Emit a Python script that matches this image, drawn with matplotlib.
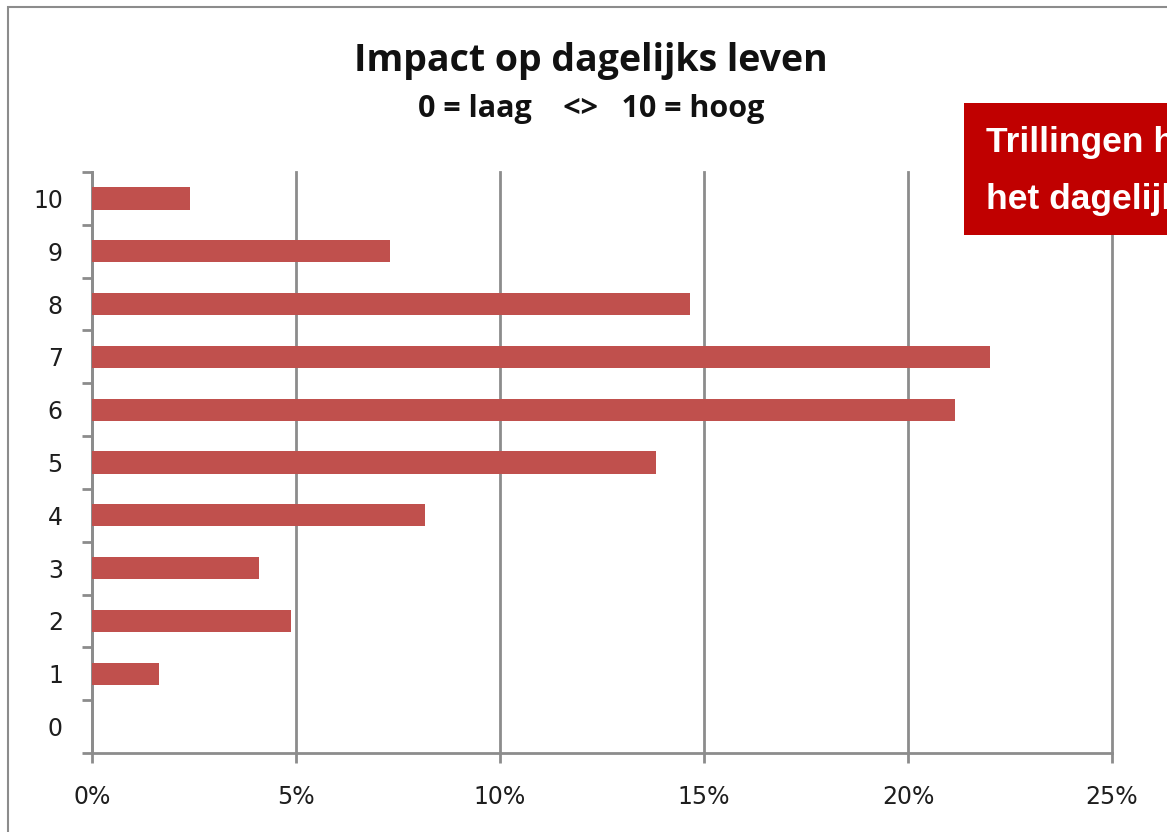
import matplotlib
matplotlib.use("Agg")
import numpy as np
from matplotlib import pyplot as plt
from matplotlib.patches import Rectangle
from matplotlib.ticker import FuncFormatter

# scores 0..10 and share of respondents (%)
scores = [0, 1, 2, 3, 4, 5, 6, 7, 8, 9, 10]
shares = [0.0, 1.64, 4.88, 4.09, 8.16, 13.82, 21.15, 22.01, 14.66, 7.30, 2.40]
x_ticks = [0, 5, 10, 15, 20, 25]

title = "Impact op dagelijks leven"
subtitle = "0 = laag    <>   10 = hoog"
callout = "Trillingen hebben impact op\nhet dagelijks leven"

W, H = 1167, 832
fig = plt.figure(figsize=(W / 100, H / 100), dpi=100)

# chart area border (cut off at right and bottom)
fig.patches.append(Rectangle((8 / W, -0.1), 1.2, 1 - 7 / H + 0.1, transform=fig.transFigure,
                             fill=False, edgecolor="#8c8c8c", linewidth=1.5))

ax = fig.add_axes([92 / W, 79 / H, (1112 - 92) / W, (753 - 172) / H])
ax.barh(scores, shares, height=0.42, color="#C0504D", zorder=3)

ax.set_xlim(0, 25)
ax.set_ylim(-0.5, 10.5)
ax.set_xticks(x_ticks)
ax.xaxis.set_major_formatter(FuncFormatter(lambda v, p: f"{v:.0f}%"))
ax.set_yticks(scores)
ax.set_yticks(np.arange(-0.5, 11, 1), minor=True)

ax.grid(axis="x", color="#8c8c8c", linewidth=2, zorder=0)
for gl in ax.get_xgridlines():
    gl.set_clip_on(False)
for s in ["top", "right"]:
    ax.spines[s].set_visible(False)
for s in ["left", "bottom"]:
    ax.spines[s].set_color("#8c8c8c")
    ax.spines[s].set_linewidth(2)

ax.tick_params(axis="y", which="major", length=0, pad=21, labelsize=17, labelcolor="#1e1e1e")
ax.tick_params(axis="y", which="minor", length=7, width=2, color="#8c8c8c")
ax.tick_params(axis="x", length=7, width=2, color="#8c8c8c", pad=16, labelsize=17, labelcolor="#1e1e1e")
for lab in ax.get_xticklabels() + ax.get_yticklabels():
    lab.set_family("DejaVu Sans")

fig.text(591 / W, 1 - 61 / H, title, ha="center", va="center", fontsize=27,
         fontweight="bold", family="Open Sans", color="#111111")
fig.text(591 / W, 1 - 109 / H, subtitle, ha="center", va="center", fontsize=22,
         fontweight="bold", family="Open Sans", color="#111111")

# red callout box, runs off the right edge
fig.patches.append(Rectangle((964 / W, 1 - 235 / H), 0.5, 132 / H, transform=fig.transFigure,
                             facecolor="#C00000", edgecolor="none", zorder=5))
fig.text(986 / W, 1 - 171 / H, callout, ha="left", va="center", fontsize=25.5,
         fontweight="bold", family="Liberation Sans", color="white",
         linespacing=1.95, zorder=6)

fig.savefig("out.png", dpi=100)
